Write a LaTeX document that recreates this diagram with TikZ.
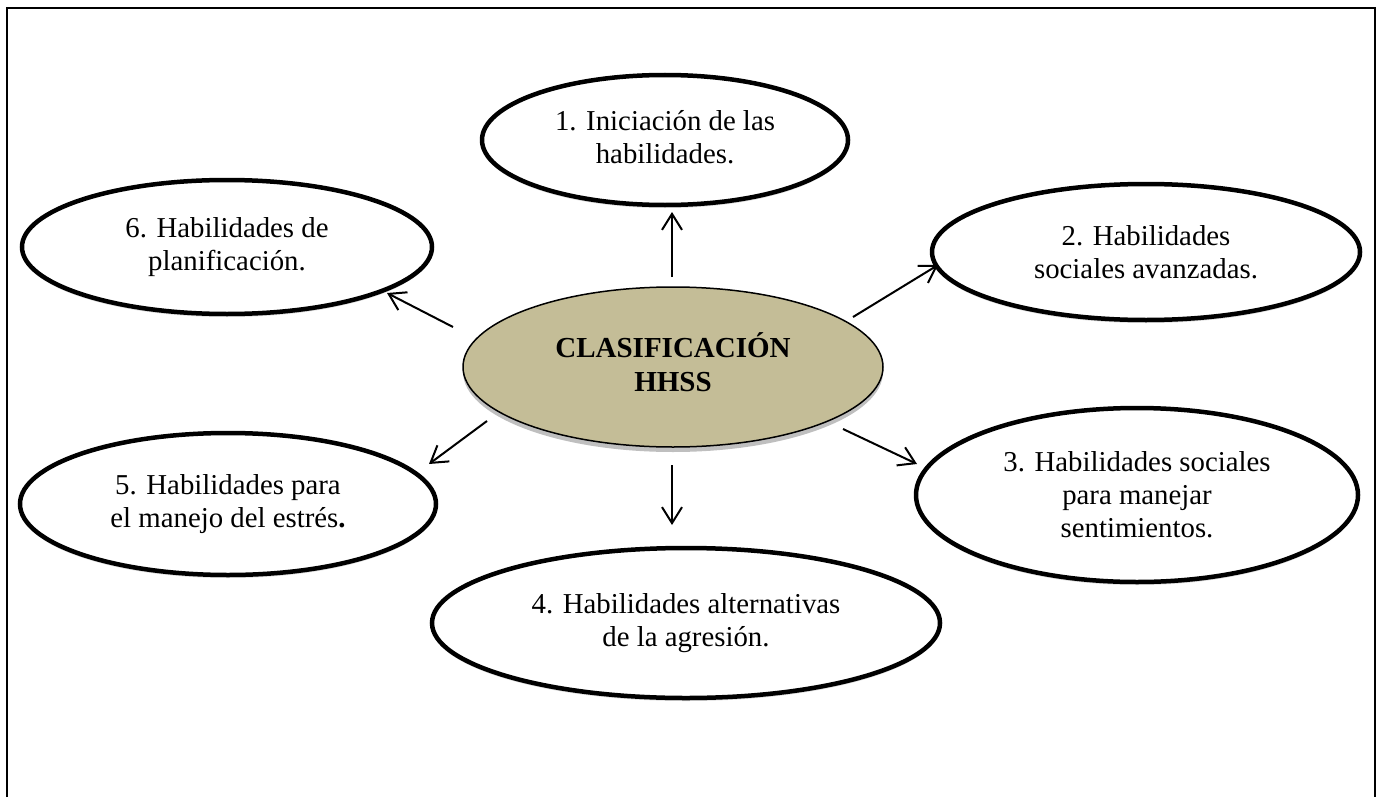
\documentclass[tikz,border=0pt]{standalone}
\usepackage{fontspec}
\setmainfont{Liberation Serif}
\usetikzlibrary{shapes.geometric,arrows.meta,shadows}
\definecolor{tanfill}{RGB}{196,189,151}
\tikzset{
  oval/.style={ellipse, draw=black, line width=4.5pt, fill=white, inner sep=0pt, align=center,
    font=\fontsize{28.8}{33}\selectfont,
    drop shadow={shadow xshift=0pt, shadow yshift=-3pt, opacity=0.15, fill=black}},
  coreoval/.style={ellipse, draw=black, line width=1.5pt, fill=tanfill, inner sep=0pt, align=center,
    font=\fontsize{29}{34}\selectfont\bfseries,
    drop shadow={shadow xshift=0pt, shadow yshift=-5pt, opacity=0.25, fill=black}},
  arr/.style={line width=2pt, -{Straight Barb[length=16pt,width=20pt,line width=2pt]}},
}
\begin{document}
\begin{tikzpicture}[x=1pt,y=-1pt]
\useasboundingbox (0,0) rectangle (1380,797);
% frame
\draw[line width=2.2pt] (7,797) -- (7,8) -- (1375,8) -- (1375,797);

% nodes
\node[coreoval, minimum width=420pt, minimum height=160pt] (c) at (673,367)
  {\raisebox{12pt}{\begin{tabular}{@{}c@{}}CLASIFICACIÓN\\HHSS\end{tabular}}};
\node[oval, minimum width=366pt, minimum height=130pt] (e1) at (665,140)
  {\raisebox{4pt}{\begin{tabular}{@{}c@{}}1. Iniciación de las\\habilidades.\end{tabular}}};
\node[oval, minimum width=428pt, minimum height=136pt] (e2) at (1146,252)
  {2. Habilidades\\sociales avanzadas.};
\node[oval, minimum width=442pt, minimum height=174pt] (e3) at (1137,495)
  {3. Habilidades sociales\\para manejar\\sentimientos.};
\node[oval, minimum width=508pt, minimum height=150pt] (e4) at (686,623)
  {4. Habilidades alternativas\\de la agresión.};
\node[oval, minimum width=416pt, minimum height=142pt] (e5) at (228,504)
  {5. Habilidades para\\el manejo del estrés\textbf{.}};
\node[oval, minimum width=410pt, minimum height=134pt] (e6) at (227,247)
  {6. Habilidades de\\planificación.};

% arrow end points
\coordinate (s1) at (672,277); \coordinate (t1) at (672,212);
\coordinate (s2) at (853,317); \coordinate (t2) at (938,265);
\coordinate (s3) at (843,429); \coordinate (t3) at (917,464);
\coordinate (s4) at (672,465); \coordinate (t4) at (672,525);
\coordinate (s5) at (487,421); \coordinate (t5) at (429,464);
\coordinate (s6) at (453,327); \coordinate (t6) at (387,293);

\draw[arr] (s1) -- (t1);
\draw[arr] (s2) -- (t2);
\draw[arr] (s3) -- (t3);
\draw[arr] (s4) -- (t4);
\draw[arr] (s5) -- (t5);
\draw[arr] (s6) -- (t6);
\end{tikzpicture}
\end{document}
